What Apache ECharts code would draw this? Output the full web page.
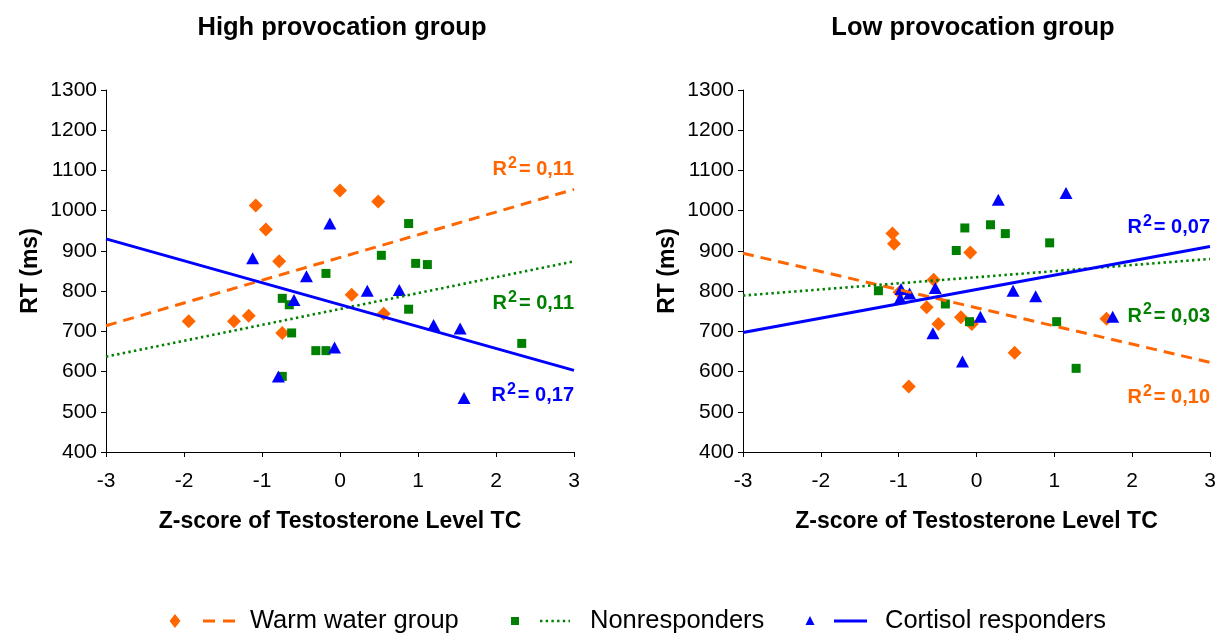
<!DOCTYPE html>
<html>
<head>
<meta charset="utf-8">
<script src="https://cdn.jsdelivr.net/npm/echarts@6/dist/echarts.min.js"></script>
<style>
html,body{margin:0;padding:0;background:#fff;}
#c{width:1222px;height:634px;}
</style>
</head>
<body>
<div id="c"></div>
<script>
// ---------- DATA ----------
var panelTitles = ['High provocation group', 'Low provocation group'];
var seriesNames = ['Warm water group', 'Nonresponders', 'Cortisol responders'];
var xTicks = [-3, -2, -1, 0, 1, 2, 3];
var yTicks = [400, 500, 600, 700, 800, 900, 1000, 1100, 1200, 1300];

// High provocation group
var warmHighX = [-1.94, -1.36, -1.17, -1.08, -0.95, -0.78, -0.74, 0.00, 0.15, 0.49, 0.56];
var warmHighY = [725, 725, 739, 1013, 953, 874, 696, 1050, 791, 1023, 744];
var nonHighX = [-0.74, -0.65, -0.62, -0.31, -0.18, -0.18, -0.74, 0.88, 0.53, 0.97, 1.12, 0.88, 2.33];
var nonHighY = [782, 766, 696, 652, 652, 844, 588, 968, 889, 869, 866, 755, 670];
var cortHighX = [-1.12, -0.79, -0.59, -0.43, -0.13, -0.07, 0.35, 0.76, 1.20, 1.54, 1.59];
var cortHighY = [882, 588, 778, 837, 968, 660, 801, 803, 716, 707, 534];

// Low provocation group
var warmLowX = [-1.08, -1.06, -0.99, -0.87, -0.64, -0.55, -0.49, -0.20, -0.08, -0.06, 0.49, 1.67];
var warmLowY = [943, 918, 797, 563, 760, 828, 718, 735, 896, 718, 647, 731];
var nonLowX = [-1.26, -0.40, -0.09, -0.26, -0.15, 0.18, 0.37, 0.94, 1.03, 1.28];
var nonLowY = [801, 768, 724, 901, 957, 965, 943, 920, 724, 608];
var cortLowX = [-0.97, -0.98, -0.86, -0.53, -0.56, -0.18, 0.05, 0.28, 0.47, 0.76, 1.15, 1.75];
var cortLowY = [805, 782, 794, 808, 695, 625, 736, 1027, 801, 787, 1044, 736];

// Trend lines: values at x = -3 and x = 3
var trendX = [-3, 3];
var warmHighTrend = [714, 1053];
var nonHighTrend = [637, 874];
var cortHighTrend = [930, 603];
var warmLowTrend = [894, 623];
var nonLowTrend = [789, 880];
var cortLowTrend = [697, 911];

// R² values
var r2High = ['0,11', '0,11', '0,17'];
var r2Low = ['0,10', '0,03', '0,07'];

// ---------- STYLE ----------
var FONT = '"Liberation Sans", Arial, sans-serif';
var colors = ['#FF6600', '#008000', '#0000FF'];
var symbols = ['diamond', 'rect', 'triangle'];
var symbolSizes = [14, 9, [13, 12]];
var lineTypes = [[11, 7], [2.4, 3.3], 'solid'];
var lineWidths = [3, 2.6, 3];

function zip(xs, ys) { return xs.map(function (x, i) { return [x, ys[i]]; }); }

var panels = [
  { pts: [[warmHighX, warmHighY], [nonHighX, nonHighY], [cortHighX, cortHighY]],
    trends: [warmHighTrend, nonHighTrend, cortHighTrend], r2: r2High,
    labelY: [1108, 775, 545] },
  { pts: [[warmLowX, warmLowY], [nonLowX, nonLowY], [cortLowX, cortLowY]],
    trends: [warmLowTrend, nonLowTrend, cortLowTrend], r2: r2Low,
    labelY: [540, 743, 963] }
];

var grids = [
  { left: 106, top: 90, width: 468, height: 362 },
  { left: 743, top: 90, width: 467, height: 362 }
];

var xAxes = [], yAxes = [], series = [];
panels.forEach(function (p, gi) {
  xAxes.push({
    type: 'value', gridIndex: gi, min: xTicks[0], max: xTicks[xTicks.length - 1], interval: 1,
    name: 'Z-score of Testosterone Level TC', nameLocation: 'middle', nameGap: 58,
    nameTextStyle: { fontFamily: FONT, fontWeight: 'bold', fontSize: 23, color: '#000' },
    axisLine: { show: true, onZero: false, lineStyle: { color: '#000', width: 1 } },
    axisTick: { show: true, inside: false, length: 5, lineStyle: { color: '#000' } },
    splitLine: { show: false },
    axisLabel: { fontFamily: FONT, fontSize: 21, color: '#000', margin: 19,
                 formatter: function (v) { return String(v); } }
  });
  yAxes.push({
    type: 'value', gridIndex: gi, min: yTicks[0], max: yTicks[yTicks.length - 1], interval: 100,
    name: 'RT (ms)', nameLocation: 'middle', nameGap: 64, nameRotate: 90,
    nameTextStyle: { fontFamily: FONT, fontWeight: 'bold', fontSize: 23, color: '#000' },
    axisLine: { show: true, onZero: false, lineStyle: { color: '#000', width: 1 } },
    axisTick: { show: true, inside: false, length: 5, lineStyle: { color: '#000' } },
    splitLine: { show: false },
    axisLabel: { fontFamily: FONT, fontSize: 21, color: '#000', margin: 9,
                 formatter: function (v) { return String(v); } }
  });
  p.pts.forEach(function (xy, si) {
    series.push({
      name: seriesNames[si], type: 'scatter', xAxisIndex: gi, yAxisIndex: gi,
      data: zip(xy[0], xy[1]), symbol: symbols[si], symbolSize: symbolSizes[si],
      itemStyle: { color: colors[si], opacity: 1 }, z: 3, silent: true
    });
  });
  p.trends.forEach(function (tr, si) {
    series.push({
      name: seriesNames[si], type: 'line', xAxisIndex: gi, yAxisIndex: gi,
      data: zip(trendX, tr), showSymbol: false, symbol: 'none', z: 4, silent: true,
      lineStyle: { color: colors[si], width: lineWidths[si], type: lineTypes[si] },
      markPoint: {
        symbol: 'circle', symbolSize: 0, silent: true,
        data: [{ coord: [3, p.labelY[si]] }],
        label: {
          show: true, position: 'left', distance: 0,
          formatter: '{a|R}{s|2}{a|= ' + p.r2[si] + '}',
          rich: {
            a: { fontFamily: FONT, fontWeight: 'bold', fontSize: 20, color: colors[si], lineHeight: 24, verticalAlign: 'bottom' },
            s: { fontFamily: FONT, fontWeight: 'bold', fontSize: 16, color: colors[si], lineHeight: 24, verticalAlign: 'top', padding: [0, 2, 0, 1] }
          }
        }
      }
    });
  });
});

// ---------- LEGEND (graphic) ----------
var LY = 621;
var legendItems = [
  { sx: 175, lx1: 203, lx2: 238, tx: 250 },
  { sx: 515, lx1: 540, lx2: 570, tx: 590 },
  { sx: 810, lx1: 834, lx2: 867, tx: 885 }
];
var graphics = [];
panelTitles.forEach(function (t, i) {
  graphics.push({ type: 'text', x: i === 0 ? 342 : 973, y: 28,
    style: { text: t, fill: '#000', font: 'bold 25.5px ' + FONT, align: 'center', verticalAlign: 'middle',
             textAlign: 'center', textVerticalAlign: 'middle' } });
});
legendItems.forEach(function (it, i) {
  var c = colors[i];
  if (i === 0) {
    graphics.push({ type: 'polygon', shape: { points: [[it.sx, LY - 7], [it.sx + 5.5, LY], [it.sx, LY + 7], [it.sx - 5.5, LY]] }, style: { fill: c } });
  } else if (i === 1) {
    graphics.push({ type: 'rect', shape: { x: it.sx - 4, y: LY - 4, width: 8, height: 8 }, style: { fill: c } });
  } else {
    graphics.push({ type: 'polygon', shape: { points: [[it.sx, LY - 5], [it.sx + 4.5, LY + 4], [it.sx - 4.5, LY + 4]] }, style: { fill: c } });
  }
  var dash = i === 0 ? [12, 8] : (i === 1 ? [2.4, 3.3] : null);
  graphics.push({ type: 'line', shape: { x1: it.lx1, y1: LY, x2: it.lx2, y2: LY },
    style: { stroke: c, lineWidth: lineWidths[i], lineDash: dash } });
  graphics.push({ type: 'text', x: it.tx, y: LY,
    style: { text: seriesNames[i], fill: '#000', font: '25.5px ' + FONT, align: 'left', verticalAlign: 'middle',
             textAlign: 'left', textVerticalAlign: 'middle' } });
});

var chart = echarts.init(document.getElementById('c'), null, { renderer: 'canvas' });
chart.setOption({
  animation: false,
  backgroundColor: '#fff',
  grid: grids,
  xAxis: xAxes,
  yAxis: yAxes,
  series: series,
  graphic: graphics
});
</script>
</body>
</html>
